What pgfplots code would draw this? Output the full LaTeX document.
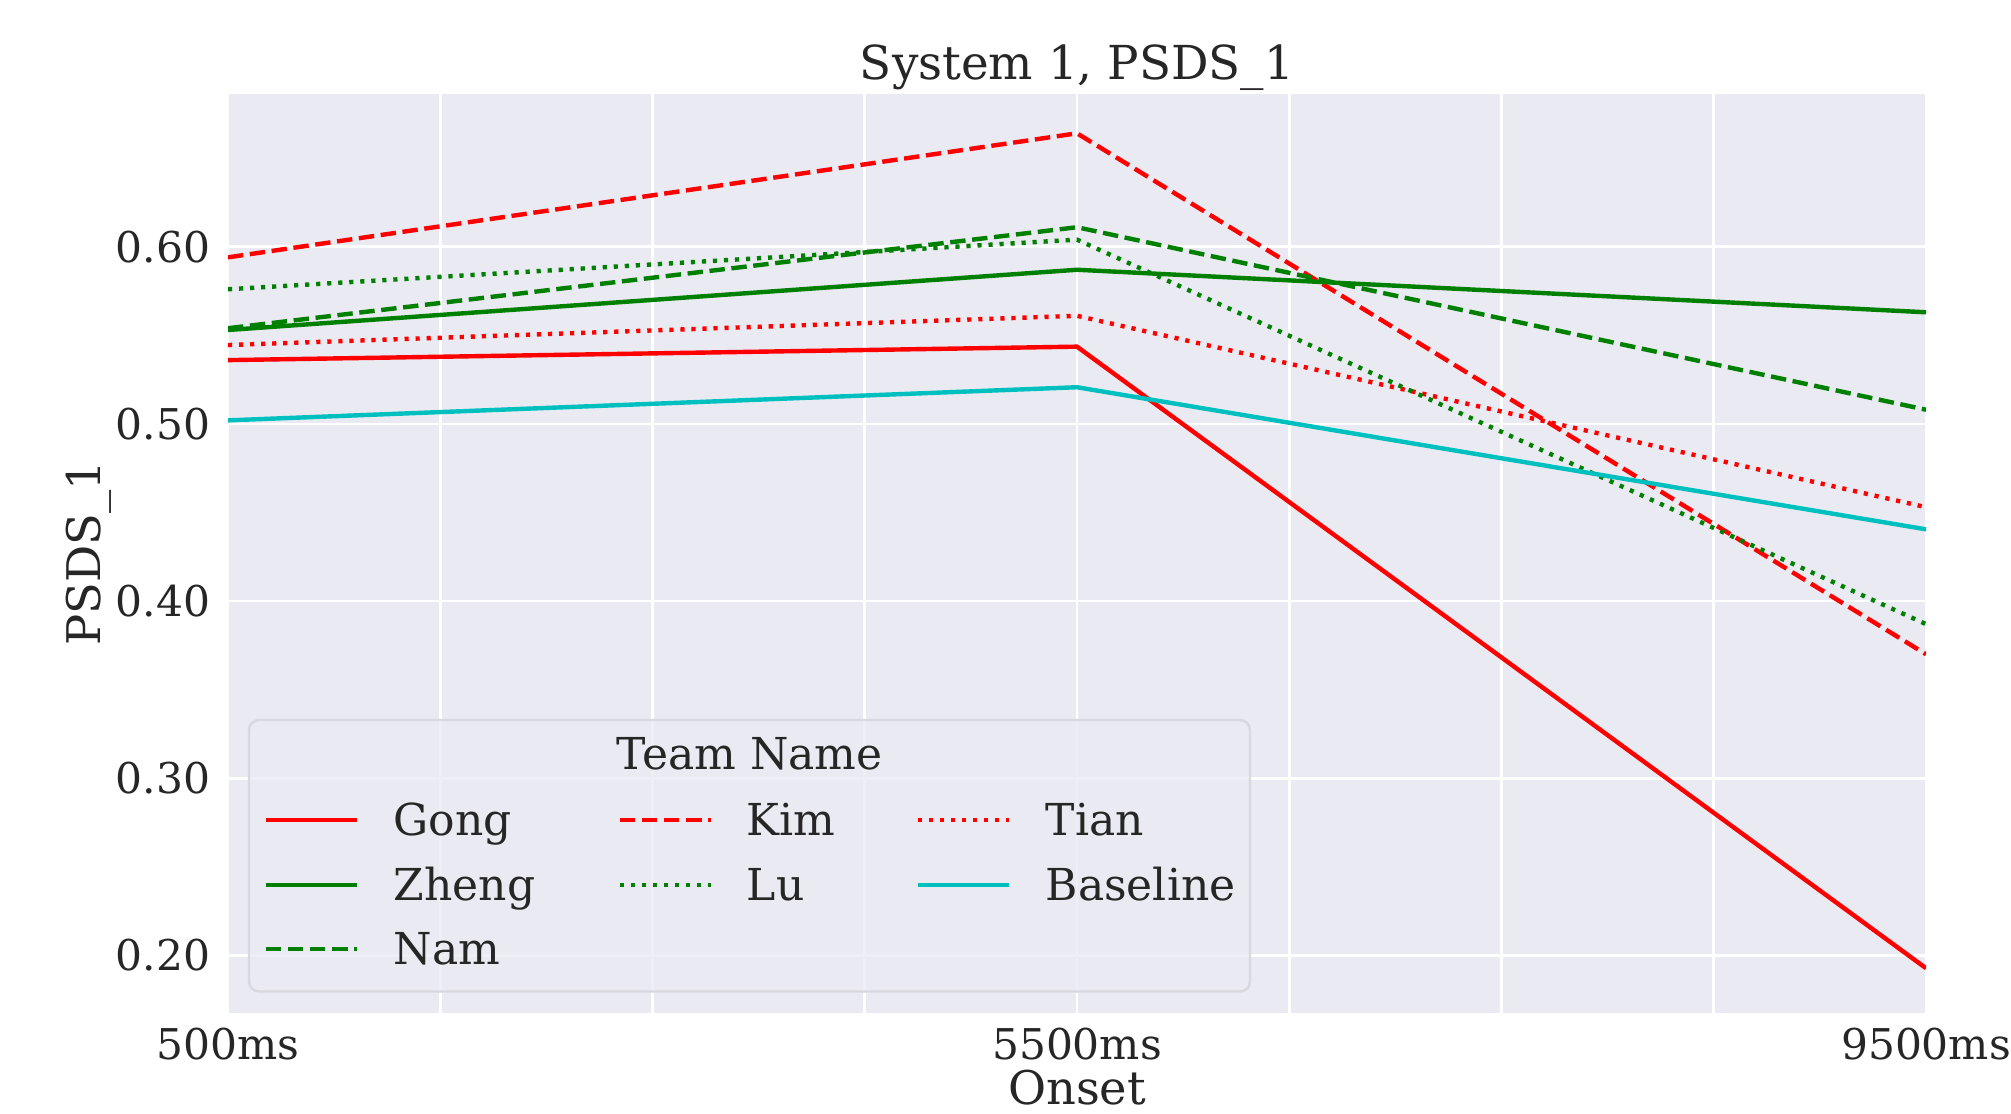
\documentclass[border=0pt]{standalone}
\usepackage{pgfplots}
\pgfplotsset{compat=1.18}
\usepackage{fontspec}
\setmainfont{DejaVu Serif}
\definecolor{bgc}{HTML}{EAEAF2}
\definecolor{txt}{HTML}{262626}
\definecolor{mred}{HTML}{FF0000}
\definecolor{mgreen}{HTML}{008000}
\definecolor{mcyan}{HTML}{00BFBF}
\definecolor{legedge}{HTML}{D8D8DE}
\tikzset{
  sline/.style={line width=1.1pt},
  dline/.style={line width=1.1pt, dash pattern=on 3.85pt off 1.66pt},
  oline/.style={line width=1.1pt, dash pattern=on 1.04pt off 1.72pt},
}
\begin{document}
\begin{tikzpicture}
\begin{axis}[
  name=ax, at={(0,0)}, anchor=south west,
  scale only axis, width=424.5pt, height=229.675pt,
  xmin=0, xmax=2, ymin=0.1677, ymax=0.6862,
  axis background/.style={fill=bgc},
  axis line style={draw=none},
  major tick length=0pt, minor tick length=0pt,
  xtick={0,1,2}, xticklabels={500ms,5500ms,9500ms},
  minor xtick={0.25,0.5,0.75,1.25,1.5,1.75},
  ytick={0.2,0.3,0.4,0.5,0.6},
  grid=both,
  major grid style={white, line width=0.7pt},
  minor grid style={white, line width=0.7pt},
  yminorgrids=false,
  /pgf/number format/assume math mode=true,
  yticklabel style={/pgf/number format/fixed, /pgf/number format/fixed zerofill, /pgf/number format/precision=2},
  yticklabel style={anchor=east, inner sep=0pt, xshift=-4.25pt, font=\fontsize{10.6}{12}\selectfont, text=txt},
  xticklabel style={anchor=base, inner sep=0pt, yshift=-11.75pt, font=\fontsize{10.6}{12}\selectfont, text=txt},
  title={System 1, PSDS\_1},
  every axis title/.style={at={(axis description cs:0.5,1.0163)}, anchor=base, inner sep=0pt, font=\fontsize{11.7}{14}\selectfont, text=txt},
  xlabel={Onset},
  xlabel style={at={(axis description cs:0.5,-0.1000)}, anchor=base, inner sep=0pt, font=\fontsize{11.6}{14}\selectfont, text=txt},
  ylabel={PSDS\_1},
  ylabel style={at={(axis description cs:-0.0748,0.5)}, anchor=base, inner sep=0pt, font=\fontsize{11.6}{14}\selectfont, text=txt},
  clip=true,
]
% Gong
\addplot[mred, sline] coordinates {(0,0.536) (1,0.5436) (2,0.1928)};
% Kim
\addplot[mred, dline] coordinates {(0,0.594) (1,0.664) (2,0.370)};
% Tian
\addplot[mred, oline] coordinates {(0,0.5445) (1,0.561) (2,0.453)};
% Zheng
\addplot[mgreen, sline] coordinates {(0,0.553) (1,0.587) (2,0.563)};
% Lu
\addplot[mgreen, oline] coordinates {(0,0.576) (1,0.604) (2,0.387)};
% Baseline
\addplot[mcyan, sline] coordinates {(0,0.502) (1,0.5207) (2,0.4405)};
% Nam
\addplot[mgreen, dline] coordinates {(0,0.554) (1,0.611) (2,0.508)};
\end{axis}
\begin{scope}[x=0.25pt, y=-0.25pt, shift={(-57pt,253.175pt)}]
  \pgfresetboundingbox
  \path[use as bounding box] (0,0) rectangle (2011,1113);
  % legend
  \draw[draw=legedge, line width=0.6pt, fill=bgc, fill opacity=0.8, rounded corners=2.5pt] (249,720) rectangle (1250,991.5);
  \begin{scope}[every node/.style={inner sep=0pt, text=txt, font=\fontsize{11}{13}\selectfont}]
    \node[anchor=base] at (749.5,770) {Team Name};
    \draw[mred, sline] (266,820) -- (357,820);
    \node[anchor=base west] at (393,836) {Gong};
    \draw[mred, dline] (620,820) -- (711,820);
    \node[anchor=base west] at (746,836) {Kim};
    \draw[mred, oline] (918,820) -- (1009,820);
    \node[anchor=base west] at (1045,836) {Tian};
    \draw[mgreen, sline] (266,885) -- (357,885);
    \node[anchor=base west] at (393,900) {Zheng};
    \draw[mgreen, oline] (620,885) -- (711,885);
    \node[anchor=base west] at (746,900) {Lu};
    \draw[mcyan, sline] (918,885) -- (1009,885);
    \node[anchor=base west] at (1045,900) {Baseline};
    \draw[mgreen, dline] (266,949) -- (357,949);
    \node[anchor=base west] at (393,964) {Nam};
  \end{scope}
\end{scope}
\end{tikzpicture}
\end{document}
